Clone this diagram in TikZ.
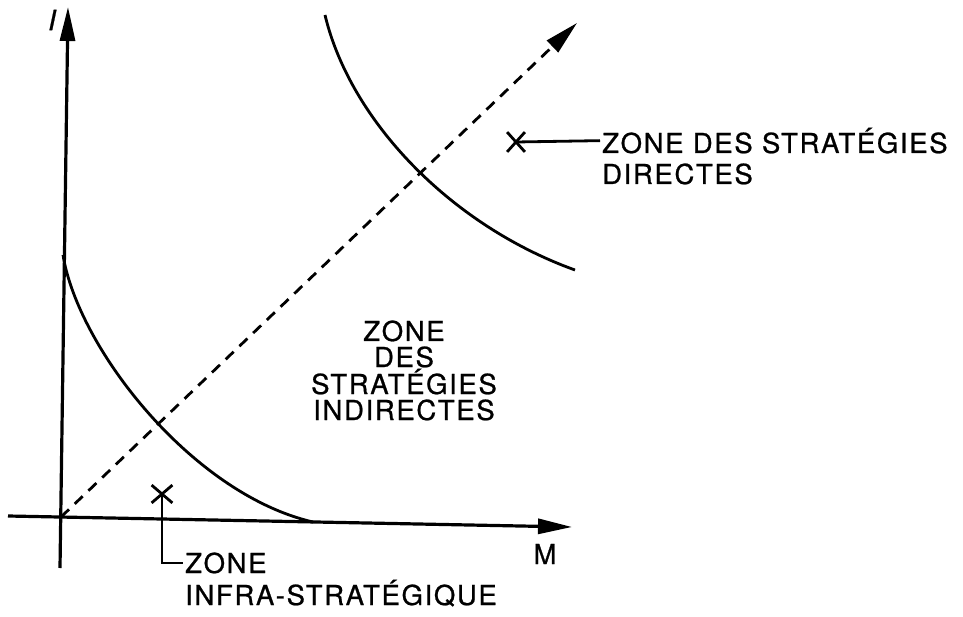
\documentclass[tikz,border=0pt]{standalone}
\usepackage{fontspec}
\setmainfont{TeX Gyre Heros}
\newfontfamily\lab[LetterSpace=6,FakeBold=0.8]{TeX Gyre Heros}
\usetikzlibrary{arrows.meta,shapes.misc}
\tikzset{
  axis/.style={line width=3.2pt,-{Triangle[length=34pt,width=15pt]}},
  curve/.style={line width=2.8pt},
  diag/.style={line width=2.8pt,dash pattern=on 11pt off 8pt,-{Triangle[length=34pt,width=16pt]}},
  xmark/.style={cross out,draw,line width=2.8pt,minimum width=15pt,minimum height=17pt,inner sep=0pt},
  lbl/.style={font=\lab\fontsize{27.5}{27.5}\selectfont,inner sep=2pt},
  leader/.style={line width=2.8pt}
}
\begin{document}
\begin{tikzpicture}[x=1pt,y=-1pt]
\useasboundingbox (0,0) rectangle (963,617);
% axes
\coordinate (Ib) at (60,568);
\coordinate (It) at (68,7);
\coordinate (Ml) at (8,516);
\coordinate (Mr) at (572,527);
\coordinate (O) at (61,517);
\coordinate (D) at (577,23);
\draw[axis] (Ib) -- (It);
\draw[axis] (Ml) -- (Mr);
\node[lbl,font=\lab\itshape\fontsize{28}{28}\selectfont] (Ilab) at (52,20) {I};
\node[lbl] (Mlab) at (545,554) {M};
% diagonal
\draw[diag] (O) -- (D);
% curves
\coordinate (c1s) at (63,255);
\coordinate (c1e) at (313,522);
\draw[curve] (c1s) .. controls (78,348) and (192,494) .. (c1e);
\coordinate (c2s) at (325,15);
\coordinate (c2e) at (575,270);
\draw[curve] (c2s) .. controls (350,120) and (450,225) .. (c2e);
% zone labels
\node[lbl,anchor=base] (m1) at (404,341) {ZONE};
\node[lbl,anchor=base] (m2) at (404,367) {DES};
\node[lbl,anchor=base] (m3) at (404,394) {STRATÉGIES};
\node[lbl,anchor=base] (m4) at (404,420) {INDIRECTES};
% direct strategies
\node[xmark] (xd) at (516,142) {};
\node[lbl,anchor=base west] (t1) at (600,153) {ZONE DES STRATÉGIES};
\node[lbl,anchor=base west] (t2) at (600,184) {DIRECTES};
\draw[leader] (t1.west) -- (xd.center);
% infra strategic
\node[xmark,minimum width=18pt,minimum height=15pt] (xi) at (162,494) {};
\node[lbl,anchor=base west] (z1) at (183,573) {ZONE};
\node[lbl,anchor=base west] (z2) at (183,605) {INFRA-STRATÉGIQUE};
\draw[leader] (xi.center) |- (z1.west);
\end{tikzpicture}
\end{document}
